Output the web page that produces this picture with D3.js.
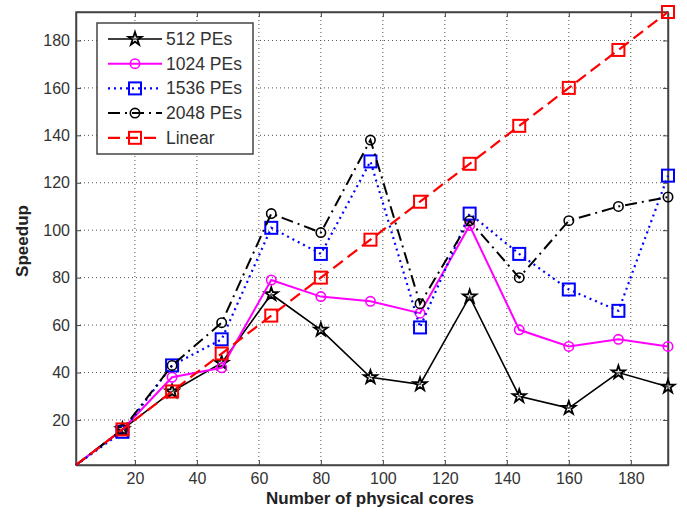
<!DOCTYPE html>
<html>
<head>
<meta charset="utf-8">
<style>
  body { margin: 0; background: #fff; }
  svg text { font-family: "Liberation Sans", Arial, sans-serif; }
</style>
</head>
<body>
<div id="chart"></div>
<script src="https://d3js.org/d3.v7.min.js"></script>
<script>
// data
var cores = [1, 16, 32, 48, 64, 80, 96, 112, 128, 144, 160, 176, 192];
var pe512 = [1, 16, 32, 44, 73, 58, 38, 35, 72, 30, 25, 40, 34];
var pe1024 = [1, 16, 38, 42, 79, 72, 70, 65, 102, 58, 51, 54, 51];
var pe1536 = [1, 15, 43, 54, 101, 90, 129, 59, 107, 90, 75, 66, 123];
var pe2048 = [1, 16, 43, 61, 107, 99, 138, 69, 104, 80, 104, 110, 114];
var linear = [1, 16, 32, 48, 64, 80, 96, 112, 128, 144, 160, 176, 192];
var xTicks = [20, 40, 60, 80, 100, 120, 140, 160, 180];
var yTicks = [20, 40, 60, 80, 100, 120, 140, 160, 180];

var width = 687, height = 516;
var pLeft = 76, pRight = 668, pTop = 12, pBottom = 465;

var svg = d3.select("#chart").append("svg")
    .attr("width", width)
    .attr("height", height);

var x = d3.scaleLinear().domain([1, 192]).range([pLeft, pRight]);
var y = d3.scaleLinear().domain([1, 192]).range([pBottom, pTop]);

// grid
svg.append("g").selectAll("line").data(xTicks).enter().append("line")
    .attr("x1", d => x(d)).attr("x2", d => x(d))
    .attr("y1", pTop).attr("y2", pBottom)
    .attr("stroke", "#555").attr("stroke-width", 1).attr("stroke-dasharray", "1,3");
svg.append("g").selectAll("line").data(yTicks).enter().append("line")
    .attr("y1", d => y(d)).attr("y2", d => y(d))
    .attr("x1", pLeft).attr("x2", pRight)
    .attr("stroke", "#555").attr("stroke-width", 1).attr("stroke-dasharray", "1,3");

// axes (ticks inside, all four sides)
var tk = 5;
svg.append("g").attr("transform", "translate(0," + pBottom + ")")
    .call(d3.axisBottom(x).tickValues(xTicks).tickSizeInner(-tk).tickSizeOuter(0).tickPadding(8));
svg.append("g").attr("transform", "translate(" + pLeft + ",0)")
    .call(d3.axisLeft(y).tickValues(yTicks).tickSizeInner(-tk).tickSizeOuter(0).tickPadding(6));
svg.append("g").attr("transform", "translate(0," + pTop + ")")
    .call(d3.axisTop(x).tickValues(xTicks).tickSizeInner(-tk).tickSizeOuter(0).tickFormat(""));
svg.append("g").attr("transform", "translate(" + pRight + ",0)")
    .call(d3.axisRight(y).tickValues(yTicks).tickSizeInner(-tk).tickSizeOuter(0).tickFormat(""));
svg.selectAll(".domain").attr("stroke", "#444").attr("stroke-width", 1.5);
svg.selectAll(".tick line").attr("stroke", "#444");
svg.selectAll(".tick text").attr("font-size", 16).attr("fill", "#333")
    .style("font-family", "'Liberation Sans', Arial, sans-serif");
svg.append("rect").attr("x", pLeft).attr("y", pTop)
    .attr("width", pRight - pLeft).attr("height", pBottom - pTop)
    .attr("fill", "none").attr("stroke", "#444").attr("stroke-width", 1.5);

// labels
svg.append("text").attr("x", 370).attr("y", 504)
    .attr("text-anchor", "middle").attr("font-size", 17).attr("font-weight", "bold")
    .attr("fill", "#222").text("Number of physical cores");
svg.append("text").attr("transform", "translate(28,241) rotate(-90)")
    .attr("text-anchor", "middle").attr("font-size", 17).attr("font-weight", "bold")
    .attr("fill", "#222").text("Speedup");

var star = d3.symbol().type(d3.symbolStar).size(55);

var series = [
  {name: "512 PEs", values: pe512, color: "#000", dash: null, w: 1.6, marker: "star"},
  {name: "1024 PEs", values: pe1024, color: "#ff00ff", dash: null, w: 2, marker: "circle"},
  {name: "1536 PEs", values: pe1536, color: "#0000ff", dash: "2,4", w: 2.2, marker: "square"},
  {name: "2048 PEs", values: pe2048, color: "#000", dash: "12,5,2,5", w: 2, marker: "circle"},
  {name: "Linear", values: linear, color: "#ff0000", dash: "12,6", w: 2.2, marker: "square"}
];

function drawMarker(g, m, color, cx, cy) {
  if (m === "star") {
    g.append("path").attr("d", star).attr("transform", "translate(" + cx + "," + cy + ")")
      .attr("fill", "#fff").attr("fill-opacity", 0.3).attr("stroke", color).attr("stroke-width", 1.8);
  } else if (m === "circle") {
    g.append("circle").attr("cx", cx).attr("cy", cy).attr("r", 4.7)
      .attr("fill", "none").attr("stroke", color).attr("stroke-width", 1.6);
  } else {
    g.append("rect").attr("x", cx - 6).attr("y", cy - 6).attr("width", 12).attr("height", 12)
      .attr("fill", "none").attr("stroke", color).attr("stroke-width", 2);
  }
}

var line = d3.line().x(d => x(d[0])).y(d => y(d[1]));

series.forEach(function(s) {
  var g = svg.append("g");
  var pts = cores.map((c, i) => [c, s.values[i]]);
  g.append("path").datum(pts).attr("d", line)
    .attr("fill", "none").attr("stroke", s.color).attr("stroke-width", s.w)
    .attr("stroke-dasharray", s.dash);
  pts.slice(1).forEach(p => drawMarker(g, s.marker, s.color, x(p[0]), y(p[1])));
});

// legend
var lg = svg.append("g");
lg.append("rect").attr("x", 97).attr("y", 23).attr("width", 156).attr("height", 131)
  .attr("fill", "#fff").attr("stroke", "#444").attr("stroke-width", 1.5);
series.forEach(function(s, i) {
  var ly = 39 + i * 24.7;
  lg.append("line").attr("x1", 108).attr("x2", 162).attr("y1", ly).attr("y2", ly)
    .attr("stroke", s.color).attr("stroke-width", s.w).attr("stroke-dasharray", s.dash);
  drawMarker(lg, s.marker, s.color, 135, ly);
  lg.append("text").attr("x", 166).attr("y", ly + 6).attr("font-size", 17.5)
    .attr("fill", "#333").text(s.name);
});
</script>
</body>
</html>
